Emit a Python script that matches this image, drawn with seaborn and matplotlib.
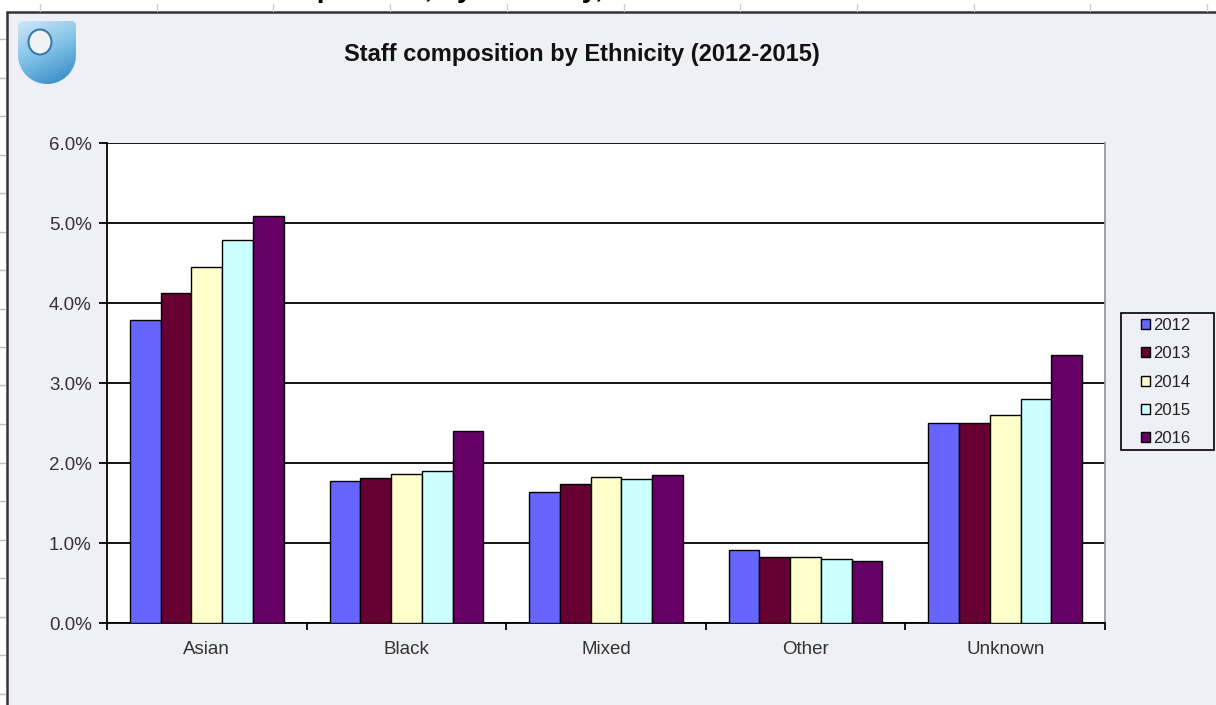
import numpy as np
import pandas as pd
import matplotlib
matplotlib.use("Agg")
import matplotlib.pyplot as plt
import seaborn as sns
from matplotlib.patches import Rectangle, Ellipse, Polygon
from matplotlib.lines import Line2D
from matplotlib.ticker import FuncFormatter, FixedLocator

categories = ["Asian", "Black", "Mixed", "Other", "Unknown"]
years = ["2012", "2013", "2014", "2015", "2016"]
v2012 = [3.79, 1.78, 1.64, 0.91, 2.50]
v2013 = [4.13, 1.81, 1.74, 0.82, 2.50]
v2014 = [4.45, 1.86, 1.82, 0.82, 2.60]
v2015 = [4.79, 1.90, 1.80, 0.80, 2.80]
v2016 = [5.09, 2.40, 1.85, 0.78, 3.35]
yticks = [0, 1, 2, 3, 4, 5, 6]
colors = ["#6666ff", "#660033", "#ffffcc", "#ccffff", "#660066"]

series = [v2012, v2013, v2014, v2015, v2016]
df = pd.DataFrame(
    [(c, y, s[i]) for y, s in zip(years, series) for i, c in enumerate(categories)],
    columns=["Ethnicity", "Year", "Value"],
)

sns.set_theme(style="white")
plt.rcParams["font.family"] = ["Liberation Sans", "DejaVu Sans"]

W, H = 1216, 705
fig = plt.figure(figsize=(W / 100, H / 100), dpi=100)
fig.patch.set_facecolor("white")

def fx(px):
    return px / W

def fy(py):
    return 1 - py / H

# chart area background & border
bg = "#eff0f5"
bgrect = Rectangle((fx(7), -0.05), 1.2, fy(12) + 0.05, transform=fig.transFigure,
                   facecolor=bg, edgecolor="#333333", linewidth=1.8, zorder=-5)
fig.add_artist(bgrect)

# ruler ticks (spreadsheet artefacts)
for x in np.arange(40, W, 116.7):
    fig.add_artist(Line2D([fx(x), fx(x)], [fy(4), fy(11)], transform=fig.transFigure,
                          color="#cccccc", lw=1, zorder=-4))
for y in np.arange(39, H, 38.5):
    fig.add_artist(Line2D([fx(0), fx(5)], [fy(y), fy(y)], transform=fig.transFigure,
                          color="#bbbbbb", lw=1, zorder=-4))

# partially cropped page heading at the very top
fig.text(fx(190), fy(-3), "Staff composition, by Ethnicity, 2012-2016",
         ha="left", va="baseline", fontsize=20, fontweight="bold", color="black", zorder=-3)

# logo (shield with gradient and white hole)
lax = fig.add_axes([fx(18), fy(84), fx(76) - fx(18), fy(21) - fy(84)], zorder=2)
lax.set_xlim(0, 58)
lax.set_ylim(63, 0)
lax.axis("off")
grad = np.linspace(0, 1, 64)[:, None] * 0.7 + np.linspace(0, 1, 64)[None, :] * 0.3
cmap = matplotlib.colors.LinearSegmentedColormap.from_list("lg", ["#cfe8f8", "#7dbfe6", "#2c86c2"])
im = lax.imshow(grad, cmap=cmap, extent=(0, 58, 63, 0), aspect="auto")
theta = np.linspace(0, np.pi, 40)
arc = [(29 + 29 * np.cos(t), 34 + 29 * np.sin(t)) for t in theta]
pts = [(3, 0), (55, 0), (58, 3), (58, 34)] + arc + [(0, 34), (0, 3)]
shield = Polygon(pts, closed=True, transform=lax.transData, facecolor="none", edgecolor="none")
lax.add_patch(shield)
im.set_clip_path(shield)
lax.add_patch(Ellipse((22, 21), 23, 25, facecolor="#f0f2f6", edgecolor="#3a7aa8", lw=1.5))

# title
fig.text(fx(581.5), fy(61), "Staff composition by Ethnicity (2012-2015)",
         ha="center", va="baseline", fontsize=17, fontweight="bold", color="#111111")

ax = fig.add_axes([fx(107), fy(623), fx(1105) - fx(107), fy(143) - fy(623)], zorder=1)
ax.set_facecolor("white")

sns.barplot(data=df, x="Ethnicity", y="Value", hue="Year", order=categories,
            hue_order=years, palette=colors, width=0.77, edgecolor="black",
            linewidth=1.0, saturation=1, ax=ax, zorder=3)

ax.set_ylim(0, 6)
ax.set_xlim(-0.5, len(categories) - 0.5)
ax.yaxis.set_major_locator(FixedLocator(yticks))
ax.yaxis.set_major_formatter(FuncFormatter(lambda v, p: f"{v:.1f}%"))
ax.grid(axis="y", color="black", linewidth=1.3, zorder=0)
ax.set_axisbelow(True)
ax.set_xlabel("")
ax.set_ylabel("")

for s in ["left", "bottom"]:
    ax.spines[s].set_visible(True)
    ax.spines[s].set_color("black")
    ax.spines[s].set_linewidth(1.3)
ax.spines["top"].set_visible(False)
ax.spines["right"].set_visible(True)
ax.spines["right"].set_color("#999999")
ax.spines["right"].set_linewidth(1.3)

ax.tick_params(axis="y", which="major", direction="out", length=6, width=1.3,
               color="black", labelsize=13.5, labelcolor="#333333", pad=5, left=True)
ax.set_xticks(np.arange(len(categories) + 1) - 0.5, minor=True)
ax.tick_params(axis="x", which="minor", direction="out", length=5, width=1.3,
               color="black", bottom=True)
ax.tick_params(axis="x", which="major", length=0, labelsize=13.5, labelcolor="#333333", pad=13)

# legend box (frame) and entries
fig.add_artist(Rectangle((fx(1121), fy(450)), fx(1214) - fx(1121), fy(313) - fy(450),
                         transform=fig.transFigure, facecolor=bg, edgecolor="black",
                         linewidth=1.2, zorder=0.5))
axw = fx(1105) - fx(107)
axh = fy(143) - fy(623)
leg = ax.legend(loc="upper left",
                bbox_to_anchor=((fx(1141) - fx(107)) / axw, (fy(318) - fy(623)) / axh),
                frameon=False, fontsize=12, handlelength=0.55, handleheight=0.55,
                handletextpad=0.2, labelspacing=0.8, borderpad=0, borderaxespad=0)
for h in leg.legend_handles:
    h.set_edgecolor("black")
    h.set_linewidth(1.0)
for t in leg.get_texts():
    t.set_color("#222222")

fig.savefig("out.png", dpi=100, facecolor=fig.get_facecolor())
